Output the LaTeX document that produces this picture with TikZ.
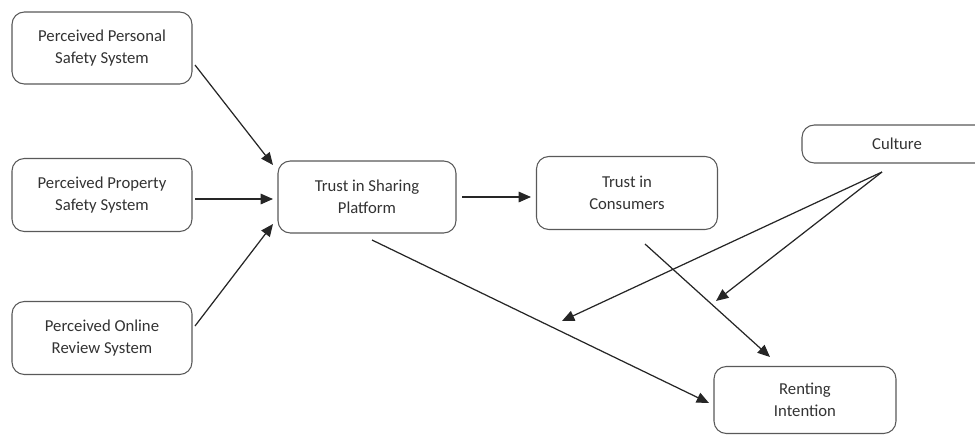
\documentclass[tikz,border=0pt]{standalone}
\usepackage{fontspec}
\setmainfont{Carlito}
\usetikzlibrary{arrows.meta}
\begin{document}
\begin{tikzpicture}[x=0.02cm,y=-0.02cm,
  box/.style={draw=black!65,line width=0.6pt,rounded corners=7pt,fill=white,align=center,
    font=\fontsize{9.5}{12.5}\selectfont,text=black!80,inner sep=0pt},
  conn/.style={draw=black!85,line width=0.7pt,-{Triangle[length=7pt,width=6pt]}}]
\useasboundingbox (0,0) rectangle (975,437);
\node[box,minimum width=3.6cm,minimum height=1.44cm] (p1) at (102,48) {Perceived Personal\\Safety System};
\node[box,minimum width=3.6cm,minimum height=1.46cm] (p2) at (102,195) {Perceived Property\\Safety System};
\node[box,minimum width=3.6cm,minimum height=1.46cm] (p3) at (102,338) {Perceived Online\\Review System};
\node[box,minimum width=3.56cm,minimum height=1.44cm] (ts) at (367,197) {Trust in Sharing\\Platform};
\node[box,minimum width=3.62cm,minimum height=1.46cm] (tc) at (627,193) {Trust in\\Consumers};
\node[box,minimum width=3.8cm,minimum height=0.76cm] (cu) at (897,144) {Culture};
\node[box,minimum width=3.64cm,minimum height=1.34cm] (ri) at (805,400) {Renting\\Intention};

\coordinate (p1s) at (195,65);
\coordinate (p2s) at (195,199);
\coordinate (p3s) at (195,326);
\coordinate (tsa) at (273,165);
\coordinate (tsb) at (273,199);
\coordinate (tsc) at (273,224);
\coordinate (tss) at (462,197);
\coordinate (tce) at (531,197);
\coordinate (tsd) at (372,240);
\coordinate (rie) at (709,403);
\coordinate (tcd) at (645,244);
\coordinate (rif) at (770,357);
\coordinate (cus) at (882,172);
\coordinate (m1) at (562,321);
\coordinate (m2) at (716,301);

\draw[conn] (p1s) -- (tsa);
\draw[conn] (p2s) -- (tsb);
\draw[conn] (p3s) -- (tsc);
\draw[conn] (tss) -- (tce);
\draw[conn] (tsd) -- (rie);
\draw[conn] (tcd) -- (rif);
\draw[conn] (cus) -- (m1);
\draw[conn] (cus) -- (m2);
\end{tikzpicture}
\end{document}
